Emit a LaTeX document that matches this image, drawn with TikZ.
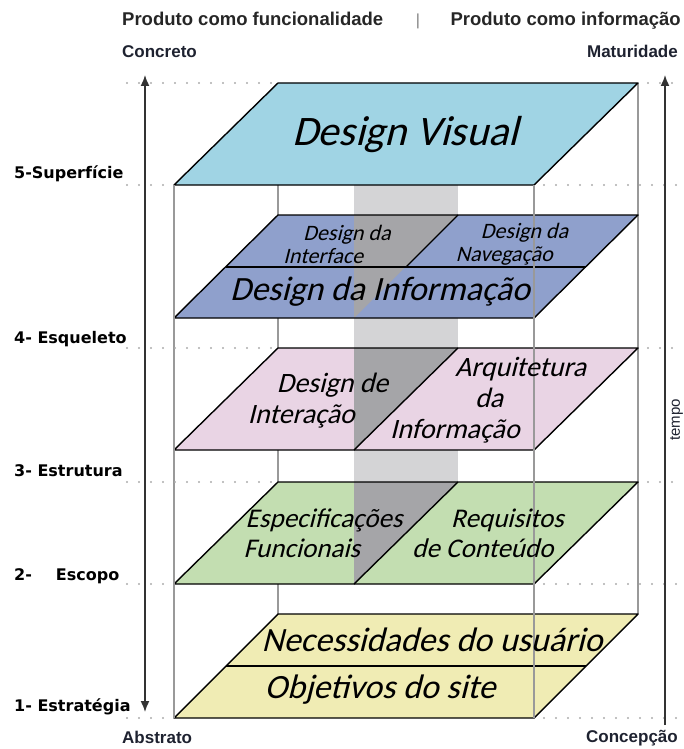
\documentclass[tikz,border=0pt]{standalone}
\usepackage{fontspec}
\setmainfont{Liberation Sans}
\newfontfamily\levelfont{DejaVu Sans}
\newfontfamily\layerfont[FakeSlant=0.25]{Carlito}
\usetikzlibrary{arrows.meta}
\usetikzlibrary{positioning}
\definecolor{visualblue}{HTML}{A0D4E4}
\definecolor{navblue}{HTML}{8FA0CC}
\definecolor{archpink}{HTML}{E9D4E4}
\definecolor{scopegreen}{HTML}{C3DEB1}
\definecolor{stratyellow}{HTML}{F0ECB4}
\definecolor{columngray}{HTML}{D4D4D6}
\definecolor{columndark}{HTML}{A5A5A8}
\definecolor{inkdark}{HTML}{1E2230}
\tikzset{layer/.style = {draw = black, line width = 1.4pt, line join = round}}
\tikzset{guide/.style = {draw = gray!80, line width = 1.3pt}}
\tikzset{dots/.style = {draw = gray!65, line width = 2.2pt, line cap = round, dash pattern = on 0pt off 12pt}}
\tikzset{axis/.style = {draw = black!80, line width = 1.5pt}}
\tikzset{level/.style = {font = \levelfont\bfseries\fontsize{16}{18}\selectfont, anchor = base west, inner sep = 0}}
\tikzset{head/.style = {font = \bfseries\fontsize{17}{20}\selectfont, text = inkdark, inner sep = 0}}
\tikzset{title/.style = {font = \bfseries\fontsize{18.5}{22}\selectfont, text = black!85, inner sep = 0, anchor = base west}}
\tikzset{big/.style = {font = \layerfont\fontsize{34}{36}\selectfont, inner sep = 0}}
\tikzset{small/.style = {font = \layerfont\fontsize{22}{23}\selectfont, align = left, inner sep = 0}}
\tikzset{mid/.style = {font = \layerfont\fontsize{28}{31}\selectfont, align = left, inner sep = 0}}

\begin{document}
\begin{tikzpicture}[x = 1pt, y = -1pt]
    \useasboundingbox (0, 0) rectangle (683, 749);

    % back edges of the stack
    \draw[guide] (278, 83) -- (278, 614);
    \draw[guide] (638, 83) -- (638, 614);

    % column between the planes
    \fill[columngray] (354, 185) rectangle (458, 584);

    % 5 - surface
    \filldraw[layer, fill = visualblue] (278, 83) -- (638, 83) -- (534, 185) -- (174, 185) -- cycle;

    % 4 - skeleton
    \fill[navblue] (278, 215) -- (638, 215) -- (534, 318) -- (174, 318) -- cycle;
    \fill[columndark] (354, 215) -- (458, 215) -- (354, 318) -- cycle;
    \draw[layer] (278, 215) -- (638, 215) -- (534, 318) -- (174, 318) -- cycle;
    \draw[layer] (226, 267) -- (586, 267);
    \draw[layer] (458, 215) -- (406, 267);

    % 3 - structure
    \fill[archpink] (278, 348) -- (638, 348) -- (534, 450) -- (174, 450) -- cycle;
    \fill[columndark] (354, 348) -- (458, 348) -- (354, 450) -- cycle;
    \draw[layer] (278, 348) -- (638, 348) -- (534, 450) -- (174, 450) -- cycle;
    \draw[layer] (458, 348) -- (354, 450);

    % 2 - scope
    \fill[scopegreen] (278, 482) -- (638, 482) -- (534, 584) -- (174, 584) -- cycle;
    \fill[columndark] (354, 482) -- (458, 482) -- (354, 584) -- cycle;
    \draw[layer] (278, 482) -- (638, 482) -- (534, 584) -- (174, 584) -- cycle;
    \draw[layer] (458, 482) -- (354, 584);

    % 1 - strategy
    \filldraw[layer, fill = stratyellow] (278, 614) -- (638, 614) -- (534, 718) -- (174, 718) -- cycle;
    \draw[layer] (226, 666) -- (586, 666);

    % front edges
    \draw[guide] (174, 185) -- (174, 718);
    \draw[guide] (534, 185) -- (534, 718);

    % level marks
    \foreach \y in {83, 348, 482} {
        \draw[dots] (127, \y) -- (276, \y);
        \draw[dots] (648, \y) -- (683, \y);
    }
    \foreach \y in {185, 584, 718} {
        \draw[dots] (127, \y) -- (172, \y);
        \draw[dots] (544, \y) -- (683, \y);
    }

    % axes
    \draw[axis, {Latex[length = 11pt, width = 9pt]}-{Latex[length = 11pt, width = 9pt]}] (145, 75) -- (145, 712);
    \draw[axis, -{Latex[length = 11pt, width = 9pt]}] (665, 725) -- (665, 75);

    % plane texts
    \node[font = \layerfont\fontsize{42}{44}\selectfont, inner sep = 0] (visual) at (405, 135) {Design Visual};
    \node[small] (interface) at (337, 244) {\hspace*{20pt}Design da\\Interface};
    \node[small] (navegacao) at (512, 244) {\hspace*{25pt}Design da\\Navegação};
    \node[big] (informacao) at (380, 292) {Design da Informação};
    \node[mid] (interacao) at (318, 401) {\hspace*{29pt}Design de\\Interação};
    \node[mid] (arquitetura) at (488, 400) {\hspace*{65pt}Arquitetura\\\hspace*{85pt}da\\Informação};
    \node[mid, font = \layerfont\fontsize{27}{30}\selectfont] (especificacoes) at (323, 533) {\hspace*{2pt}Especificações\\Funcionais};
    \node[mid, font = \layerfont\fontsize{27}{30}\selectfont] (requisitos) at (488, 533) {\hspace*{39pt}Requisitos\\de Conteúdo};
    \node[big] (necessidades) at (432, 640) {Necessidades do usuário};
    \node[big] (objetivos) at (380, 690) {Objetivos do site};

    % level names
    \node[level] (superficie) at (14, 178) {5-Superfície};
    \node[level] (esqueleto) at (14, 343) {4- Esqueleto};
    \node[level] (estrutura) at (14, 476) {3- Estrutura};
    \node[level] (escopo) at (14, 580) {2-\hspace{24pt}Escopo};
    \node[level] (estrategia) at (14, 711) {1- Estratégia};

    % headings
    \node[title] (funcionalidade) at (122, 26) {Produto como funcionalidade};
    \node[title, anchor = base, text = gray, font = \fontsize{16}{18}\selectfont] (barra) at (418, 26) {|};
    \node[title, anchor = base east] (informacao head) at (681, 26) {Produto como informação};
    \node[head, anchor = base west] (concreto) at (122, 58) {Concreto};
    \node[head, anchor = base east] (maturidade) at (678, 58) {Maturidade};
    \node[head, anchor = base west] (abstrato) at (122, 743) {Abstrato};
    \node[head, anchor = base east] (concepcao) at (678, 742) {Concepção};
    \node[font = \fontsize{15}{17}\selectfont, text = inkdark, rotate = 90, anchor = north, inner sep = 0] (tempo) at (670, 420) {tempo};
\end{tikzpicture}
\end{document}
